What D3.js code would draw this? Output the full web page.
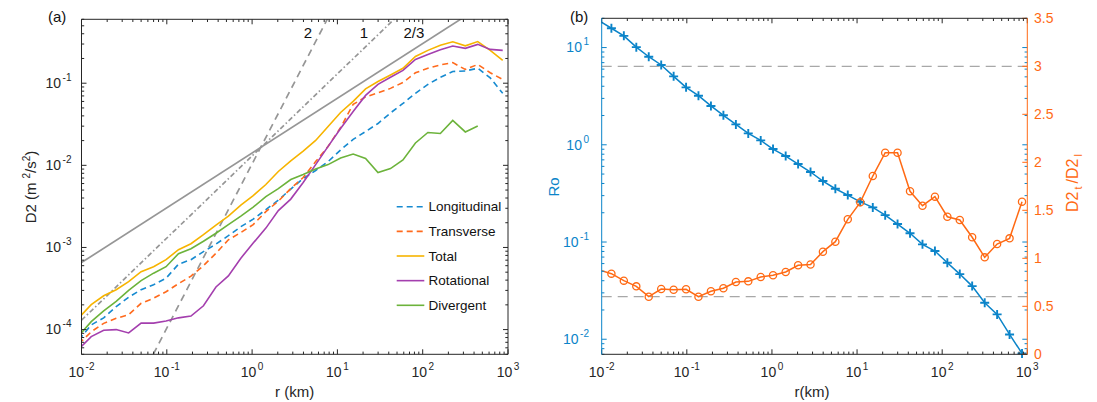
<!DOCTYPE html>
<html>
<head>
<meta charset="utf-8">
<script src="https://cdn.jsdelivr.net/npm/d3@7"></script>
<style>
body { margin: 0; background: #fff; }
text { font-family: "Liberation Sans", Arial, Helvetica, sans-serif; }
</style>
</head>
<body>
<svg id="fig" width="1097" height="402"></svg>
<script>
// separation r (km), shared by both panels (first point sits just left of the axis)
var rKm = [0.0093, 0.013, 0.0182, 0.0255, 0.0357, 0.05, 0.07, 0.098, 0.137, 0.192, 0.269,
    0.377, 0.527, 0.738, 1.03, 1.45, 2.03, 2.84, 3.97, 5.56, 7.78, 10.9, 15.3, 21.4, 29.9,
    41.9, 58.7, 82.2, 115, 161, 225, 316, 442, 619, 867];

// panel (a): second order structure functions D2 (m^2/s^2)
var longitudinal = [7.5e-5, 1.14e-4, 1.39e-4, 1.90e-4, 2.48e-4, 3.06e-4, 3.52e-4, 4.22e-4, 6.25e-4,
    7.10e-4, 8.89e-4, 1.10e-3, 1.39e-3, 1.79e-3, 2.21e-3, 2.89e-3, 3.77e-3, 5.14e-3, 6.90e-3,
    8.65e-3, 1.11e-2, 1.54e-2, 2.07e-2, 2.58e-2, 3.23e-2, 4.34e-2, 5.67e-2, 7.52e-2, 9.66e-2,
    0.118, 0.139, 0.141, 0.152, 0.116, 0.0752];
var transverse = [6.7e-5, 9.4e-5, 1.19e-4, 1.37e-4, 1.52e-4, 2.09e-4, 2.41e-4, 2.89e-4, 3.62e-4,
    4.47e-4, 6.0e-4, 8.5e-4, 1.24e-3, 1.52e-3, 1.90e-3, 2.73e-3, 3.67e-3, 5.21e-3, 7.10e-3,
    1.11e-2, 1.70e-2, 2.89e-2, 5.52e-2, 6.81e-2, 7.62e-2, 8.65e-2, 0.102, 0.134, 0.152,
    0.167, 0.178, 0.147, 0.169, 0.134, 0.111];
var total = [1.39e-4, 2.01e-4, 2.58e-4, 3.06e-4, 3.83e-4, 5.07e-4, 5.83e-4, 7.10e-4, 9.40e-4,
    1.11e-3, 1.43e-3, 1.87e-3, 2.41e-3, 3.28e-3, 4.28e-3, 5.84e-3, 8.41e-3, 1.13e-2, 1.49e-2,
    2.01e-2, 2.97e-2, 4.40e-2, 6.0e-2, 8.53e-2, 0.105, 0.126, 0.152, 0.212, 0.251,
    0.289, 0.319, 0.285, 0.321, 0.251, 0.190];
var rotational = [5.8e-5, 8.2e-5, 9.8e-5, 1.0e-4, 9.1e-5, 1.2e-4, 1.2e-4, 1.27e-4, 1.39e-4,
    1.46e-4, 1.95e-4, 3.3e-4, 4.5e-4, 7.4e-4, 1.13e-3, 1.72e-3, 2.81e-3, 3.88e-3, 6.17e-3,
    1.02e-2, 1.70e-2, 2.81e-2, 4.53e-2, 7.10e-2, 9.67e-2, 0.118, 0.143, 0.195, 0.224,
    0.255, 0.284, 0.266, 0.297, 0.258, 0.251];
var divergent = [8.4e-5, 1.25e-4, 1.69e-4, 2.21e-4, 3.01e-4, 3.94e-4, 4.86e-4, 5.83e-4, 8.40e-4,
    9.66e-4, 1.19e-3, 1.49e-3, 1.90e-3, 2.41e-3, 3.10e-3, 4.17e-3, 5.21e-3, 6.71e-3, 7.73e-3,
    9.02e-3, 1.02e-2, 1.23e-2, 1.37e-2, 1.21e-2, 8.17e-3, 9.14e-3, 1.16e-2, 1.87e-2, 2.51e-2,
    2.44e-2, 3.52e-2, 2.55e-2, 3.01e-2, null, null];

var seriesNames = ["Longitudinal", "Transverse", "Total", "Rotational", "Divergent"];
var seriesValues = [longitudinal, transverse, total, rotational, divergent];
var seriesColors = ["#168ad0", "#ff6a1c", "#f7b400", "#a43fae", "#6cb33b"];
var seriesDash = ["6,4", "6,4", null, null, null];

// reference power laws D2 ~ r^slope, value at r = 1 km
var refLabels = ["2", "1", "2/3"];
var refSlopes = [2, 1, 2 / 3];
var refAtOne = [0.0104, 0.013, 0.0141];
var refDash = ["7,5", "5,2.5,1.5,2.5", null];
var refLabelR = [4.5, 20.5, 79];

// panel (b)
var rossby = [18.9, 15.8, 13.2, 10.1, 8.05, 6.62, 5.06, 3.90, 3.20, 2.51, 2.01, 1.62, 1.31, 1.11,
    0.904, 0.766, 0.634, 0.525, 0.424, 0.353, 0.304, 0.259, 0.227, 0.189, 0.153, 0.123,
    0.0946, 0.0807, 0.0612, 0.0468, 0.0352, 0.0237, 0.0180, 0.0112, 0.00715];
var ratio = [0.88, 0.840, 0.767, 0.708, 0.600, 0.680, 0.673, 0.677, 0.600, 0.656, 0.688, 0.753,
    0.760, 0.805, 0.823, 0.857, 0.927, 0.935, 1.069, 1.173, 1.406, 1.583, 1.857, 2.100, 2.100,
    1.698, 1.548, 1.642, 1.433, 1.399, 1.219, 1.010, 1.149, 1.208, 1.590];
var ratioRefs = [3, 0.6];
var ratioTicks = [0, 0.5, 1, 1.5, 2, 2.5, 3, 3.5];
var xExps = [-2, -1, 0, 1, 2, 3];

var ink = "#262626";
var blue = "#0b84c9";
var orange = "#ff6a14";
var gray = "#969696";

var svg = d3.select("#fig");

function isMajor(d) {
    var l = Math.log10(d);
    return Math.abs(l - Math.round(l)) < 1e-6;
}

// tick marks pointing into the box
function ticks(g, scale, vals, side, at, color, logTicks) {
    g.selectAll(null)
        .data(vals)
        .enter()
        .append("line")
        .attr("stroke", color)
        .attr("stroke-width", 1)
        .each(function (d) {
            var len = (!logTicks || isMajor(d)) ? 5 : 2.7;
            var p = scale(d), s = d3.select(this);
            if (side === "bottom") s.attr("x1", p).attr("x2", p).attr("y1", at).attr("y2", at - len);
            if (side === "top") s.attr("x1", p).attr("x2", p).attr("y1", at).attr("y2", at + len);
            if (side === "left") s.attr("y1", p).attr("y2", p).attr("x1", at).attr("x2", at + len);
            if (side === "right") s.attr("y1", p).attr("y2", p).attr("x1", at).attr("x2", at - len);
        });
}

function powLabel(sel, e) {
    sel.append("tspan").text("10");
    sel.append("tspan").attr("font-size", 10).attr("dx", 1.5).attr("dy", -7).text(e);
}

function xTickLabels(g, scale, y) {
    xExps.forEach(function (e) {
        var t = g.append("text")
            .attr("x", scale(Math.pow(10, e)))
            .attr("y", y)
            .attr("text-anchor", "middle")
            .attr("font-size", 14)
            .attr("fill", ink);
        powLabel(t, String(e));
    });
}

function boxLine(g, x1, y1, x2, y2, color) {
    g.append("line")
        .attr("x1", x1).attr("y1", y1).attr("x2", x2).attr("y2", y2)
        .attr("stroke", color).attr("stroke-width", 1);
}

//first panel

var xL = d3.scaleLog().domain([0.01, 1000]).range([81.5, 508]);
var yL = d3.scaleLog().domain([5e-5, 0.6]).range([354.3, 19.3]);

var gA = svg.append("g");

gA.append("clipPath").attr("id", "clipA")
    .append("rect")
    .attr("x", 81.5).attr("y", 19.3)
    .attr("width", 426.5).attr("height", 335);

var plotA = gA.append("g").attr("clip-path", "url(#clipA)");

refSlopes.forEach(function (s, i) {
    var ends = xL.domain().map(function (r) { return [r, refAtOne[i] * Math.pow(r, s)]; });
    plotA.append("path")
        .attr("d", d3.line().x(function (d) { return xL(d[0]); }).y(function (d) { return yL(d[1]); })(ends))
        .attr("fill", "none")
        .attr("stroke", gray)
        .attr("stroke-width", 1.7)
        .attr("stroke-dasharray", refDash[i]);
});

var lineA = d3.line()
    .defined(function (d) { return d[1] != null; })
    .x(function (d) { return xL(d[0]); })
    .y(function (d) { return yL(d[1]); });

seriesValues.forEach(function (vals, i) {
    plotA.append("path")
        .attr("d", lineA(d3.zip(rKm, vals)))
        .attr("fill", "none")
        .attr("stroke", seriesColors[i])
        .attr("stroke-width", 1.6)
        .attr("stroke-dasharray", seriesDash[i]);
});

refLabels.forEach(function (l, i) {
    gA.append("text")
        .attr("x", xL(refLabelR[i]))
        .attr("y", 38)
        .attr("text-anchor", "middle")
        .attr("font-size", 15)
        .attr("fill", "#111")
        .text(l);
});

// legend
seriesNames.forEach(function (n, i) {
    var y = 206.7 + i * 24.65;
    gA.append("line")
        .attr("x1", 396.7).attr("x2", 424.3).attr("y1", y).attr("y2", y)
        .attr("stroke", seriesColors[i])
        .attr("stroke-width", 1.6)
        .attr("stroke-dasharray", seriesDash[i]);
    gA.append("text")
        .attr("x", 428.5).attr("y", y).attr("dy", "0.35em")
        .attr("font-size", 13.5)
        .attr("fill", "#111")
        .text(n);
});

// box + ticks
var xtL = xL.ticks(), ytL = yL.ticks();
ticks(gA, xL, xtL, "bottom", 354.3, ink, true);
ticks(gA, xL, xtL, "top", 19.3, ink, true);
ticks(gA, yL, ytL, "left", 81.5, ink, true);
ticks(gA, yL, ytL, "right", 508, ink, true);
boxLine(gA, 81.5, 19.3, 508, 19.3, ink);
boxLine(gA, 81.5, 354.3, 508, 354.3, ink);
boxLine(gA, 81.5, 19.3, 81.5, 354.3, ink);
boxLine(gA, 508, 19.3, 508, 354.3, ink);

xTickLabels(gA, xL, 377.3);

[-1, -2, -3, -4].forEach(function (e) {
    var t = gA.append("text")
        .attr("x", 71.5)
        .attr("y", yL(Math.pow(10, e)))
        .attr("dy", "0.35em")
        .attr("text-anchor", "end")
        .attr("font-size", 14)
        .attr("fill", ink);
    powLabel(t, String(e));
});

gA.append("text")
    .attr("x", 294.7).attr("y", 397)
    .attr("text-anchor", "middle")
    .attr("font-size", 15)
    .attr("fill", ink)
    .text("r (km)");

var yLab = gA.append("text")
    .attr("transform", "translate(36,187) rotate(-90)")
    .attr("text-anchor", "middle")
    .attr("font-size", 15)
    .attr("fill", ink);
yLab.append("tspan").text("D2 (m");
yLab.append("tspan").attr("font-size", 10).attr("dx", 4).attr("dy", -6).text("2");
yLab.append("tspan").attr("dy", 6).text("/s");
yLab.append("tspan").attr("font-size", 10).attr("dy", -6).text("2");
yLab.append("tspan").attr("dy", 6).text(")");

gA.append("text")
    .attr("x", 48).attr("y", 22)
    .attr("font-size", 15)
    .attr("fill", "#111")
    .text("(a)");

//second panel

var xR = d3.scaleLog().domain([0.01, 1000]).range([601.7, 1027.3]);
var yRo = d3.scaleLog().domain([0.007, 20]).range([354.3, 18.3]);
var yRat = d3.scaleLinear().domain([0, 3.5]).range([354.3, 18.3]);

var gB = svg.append("g");

gB.append("clipPath").attr("id", "clipB")
    .append("rect")
    .attr("x", 601.7).attr("y", 18.3)
    .attr("width", 425.6).attr("height", 336);

var plotB = gB.append("g").attr("clip-path", "url(#clipB)");

ratioRefs.forEach(function (v) {
    plotB.append("line")
        .attr("x1", 601.7).attr("x2", 1027.3)
        .attr("y1", yRat(v)).attr("y2", yRat(v))
        .attr("stroke", "#a8a8a8")
        .attr("stroke-width", 1.2)
        .attr("stroke-dasharray", "10,6");
});

var roPts = d3.zip(rKm, rossby);
plotB.append("path")
    .attr("d", d3.line().x(function (d) { return xR(d[0]); }).y(function (d) { return yRo(d[1]); })(roPts))
    .attr("fill", "none")
    .attr("stroke", blue)
    .attr("stroke-width", 1.5);

gB.selectAll(".plus")
    .data(roPts.filter(function (d) { return d[0] >= 0.01; }))
    .enter()
    .append("path")
    .attr("class", "plus")
    .attr("transform", function (d) { return "translate(" + xR(d[0]) + "," + yRo(d[1]) + ")"; })
    .attr("d", "M-4.5,0H4.5M0,-4.5V4.5")
    .attr("stroke", blue)
    .attr("stroke-width", 1.9);

var ratPts = d3.zip(rKm, ratio);
plotB.append("path")
    .attr("d", d3.line().x(function (d) { return xR(d[0]); }).y(function (d) { return yRat(d[1]); })(ratPts))
    .attr("fill", "none")
    .attr("stroke", orange)
    .attr("stroke-width", 1.5);

gB.selectAll(".circ")
    .data(ratPts.filter(function (d) { return d[0] >= 0.01; }))
    .enter()
    .append("circle")
    .attr("class", "circ")
    .attr("cx", function (d) { return xR(d[0]); })
    .attr("cy", function (d) { return yRat(d[1]); })
    .attr("r", 3.6)
    .attr("fill", "none")
    .attr("stroke", orange)
    .attr("stroke-width", 1.3);

var xtR = xR.ticks(), ytR = yRo.ticks();
ticks(gB, xR, xtR, "bottom", 354.3, ink, true);
ticks(gB, xR, xtR, "top", 18.3, ink, true);
ticks(gB, yRo, ytR, "left", 601.7, blue, true);
ticks(gB, yRo, ytR, "right", 1027.3, blue, true);
ticks(gB, yRat, ratioTicks, "right", 1027.3, orange, false);
boxLine(gB, 601.7, 18.3, 1027.3, 18.3, ink);
boxLine(gB, 601.7, 354.3, 1027.3, 354.3, ink);
boxLine(gB, 601.7, 18.3, 601.7, 354.3, blue);
boxLine(gB, 1027.3, 18.3, 1027.3, 354.3, orange);

xTickLabels(gB, xR, 377.3);

[1, 0, -1, -2].forEach(function (e) {
    var t = gB.append("text")
        .attr("x", 589)
        .attr("y", yRo(Math.pow(10, e)))
        .attr("dy", "0.35em")
        .attr("text-anchor", "end")
        .attr("font-size", 14)
        .attr("fill", blue);
    powLabel(t, String(e));
});

ratioTicks.forEach(function (v) {
    gB.append("text")
        .attr("x", 1034)
        .attr("y", yRat(v))
        .attr("dy", "0.35em")
        .attr("font-size", 14)
        .attr("fill", orange)
        .text(v);
});

gB.append("text")
    .attr("x", 812).attr("y", 397)
    .attr("text-anchor", "middle")
    .attr("font-size", 15)
    .attr("fill", ink)
    .text("r(km)");

gB.append("text")
    .attr("transform", "translate(559,187) rotate(-90)")
    .attr("text-anchor", "middle")
    .attr("font-size", 15)
    .attr("fill", blue)
    .text("Ro");

var rLab = gB.append("text")
    .attr("transform", "translate(1078,183) rotate(-90)")
    .attr("text-anchor", "middle")
    .attr("font-size", 16)
    .attr("fill", orange);
rLab.append("tspan").text("D2");
rLab.append("tspan").attr("font-size", 11).attr("dx", 2).attr("dy", 4).text("t");
rLab.append("tspan").attr("dx", 3).attr("dy", -4).text("/D2");
rLab.append("tspan").attr("font-size", 11).attr("dx", 2).attr("dy", 4).text("l");

gB.append("text")
    .attr("x", 570).attr("y", 22)
    .attr("font-size", 15)
    .attr("fill", "#111")
    .text("(b)");
</script>
</body>
</html>
